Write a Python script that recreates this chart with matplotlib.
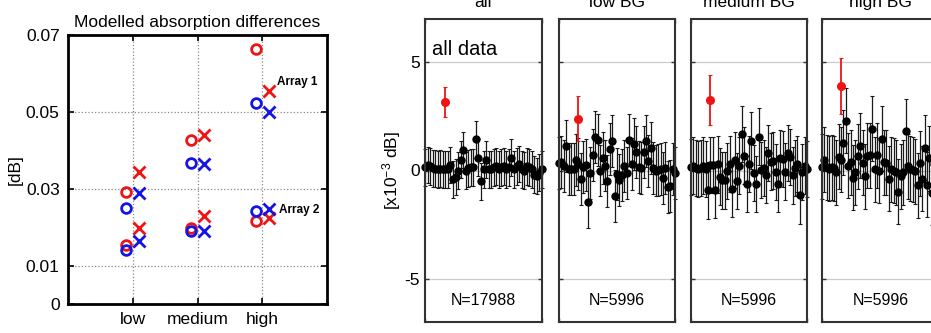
import matplotlib
matplotlib.use("Agg")
import matplotlib.pyplot as plt
import numpy as np

plt.rcParams['font.family'] = ['Liberation Sans', 'DejaVu Sans']
plt.rcParams['mathtext.fontset'] = 'custom'
plt.rcParams['mathtext.rm'] = 'Liberation Sans'
plt.rcParams['mathtext.it'] = 'Liberation Sans'

# ---------------- Left panel data ----------------
groups = ['low', 'medium', 'high']
red_circle_a1 = [0.0291, 0.0427, 0.0663]
blue_circle_a1 = [0.0251, 0.0366, 0.0522]
red_cross_a1 = [0.0343, 0.0440, 0.0553]
blue_cross_a1 = [0.0288, 0.0364, 0.0499]
red_circle_a2 = [0.0154, 0.0199, 0.0216]
blue_circle_a2 = [0.0141, 0.0190, 0.0242]
red_cross_a2 = [0.0199, 0.0229, 0.0223]
blue_cross_a2 = [0.0165, 0.0190, 0.0246]
left_yticks = [0, 0.01, 0.03, 0.05, 0.07]
left_yticklabels = ['0', '0.01', '0.03', '0.05', '0.07']

# ---------------- Right panels data ----------------
panel_titles = ['all', 'low BG', 'medium BG', 'high BG']
panel_counts = ['N=17988', 'N=5996', 'N=5996', 'N=5996']

vals_all = [0.15, 0.25, 0.2, 0.1, 0.08, 0.05, 0.08, 0.05, 0.05, 0.05, 0.25, -0.4, -0.3,
            0.0, 0.5, 0.95, 0.0, 0.1, 0.15, 0.15, 1.45, 0.6, -0.5, 0.05, 0.5, 0.05, 0.05,
            0.15, 0.2, 0.05, 0.15, 0.2, 0.05, 0.15, 0.6, 0.05, 0.2, 0.3, 0.05, 0.0, 0.2,
            0.15, 0.05, -0.2, -0.25, -0.1, 0.05]
vals_low = [0.33, 0.38, 0.2, 1.15, 0.08, 0.05, 0.08, 0.5, 0.3, -0.4, 0.18, 0.27, -1.45,
            -0.1, 0.72, 1.53, 1.4, 0.0, 0.57, 0.23, -0.5, 1.0, 1.38, -1.18, -0.15, -0.45,
            -0.2, 0.2, -0.1, 1.42, 0.3, 1.22, 0.87, 0.15, 0.1, 0.84, 1.35, 0.43, 1.04, 0.1,
            0.0, 0.03, 0.08, -0.34, 0.1, -0.76, -0.72, 0.08, -0.12]
vals_med = [0.15, 0.23, 0.1, 0.08, 0.1, 0.23, 0.08, -0.92, 0.26, 0.26, -0.89, 0.28, -0.28,
            -0.46, -0.46, -0.03, 0.3, -0.87, 0.5, -0.5, 0.23, 1.68, 0.69, -0.61, 0.29, 1.38,
            -0.12, -0.61, 1.57, 0.03, 0.1, -0.2, 0.8, 0.41, 0.46, -0.08, -0.61, 0.57, 0.54,
            -0.05, 0.81, 0.64, -0.23, 0.1, 0.3, -1.15, -0.08, 0.23, 0.08]
vals_high = [0.18, 0.49, 0.15, 0.08, 0.15, 0.1, -0.08, 0.64, 0.5, 1.29, 2.3, 0.23, 0.38,
             -0.33, -0.08, 0.65, 1.14, 0.35, -0.27, 0.68, 0.71, 1.93, 0.05, 0.71, 0.0, 1.47,
             0.38, 0.35, -0.38, 0.05, 0.0, -0.08, -0.99, -0.27, -0.08, 1.82, 0.2, 0.08, 0.03,
             -0.03, -0.68, 0.33, -0.38, 1.06, -0.65, 0.56, -1.03, 0.3, -0.2, 0.1]
panel_vals = [vals_all, vals_low, vals_med, vals_high]
panel_err = [0.85, 1.2, 1.3, 1.5]
red_index = 8
red_vals = [3.15, 2.4, 3.24, 3.9]
red_errs = [0.7, 1.05, 1.15, 1.3]
right_yticks = [-5, 0, 5]

RED = '#ee1414'
BLUE = '#1414e6'

W, H = 931, 333
fig = plt.figure(figsize=(W / 100, H / 100), dpi=100)


def rect(x0, y0, x1, y1):
    return [x0 / W, 1 - y1 / H, (x1 - x0) / W, (y1 - y0) / H]


# ---------------- Left panel ----------------
ax = fig.add_axes(rect(68, 35, 327, 304))
xpos = np.arange(1, len(groups) + 1)
off = 0.1
ms_o, ms_x, mew = 7, 8, 2
for data, col in [(red_circle_a1, RED), (blue_circle_a1, BLUE), (red_circle_a2, RED), (blue_circle_a2, BLUE)]:
    ax.plot(xpos - off, data, 'o', mfc='none', mec=col, ms=ms_o, mew=mew, zorder=3)
for data, col in [(red_cross_a1, RED), (blue_cross_a1, BLUE), (red_cross_a2, RED), (blue_cross_a2, BLUE)]:
    ax.plot(xpos + off, data, 'x', color=col, ms=ms_x, mew=mew, zorder=3)
ax.set_xlim(0, 4)
ax.set_ylim(0, 0.07)
ax.set_xticks(xpos)
ax.set_xticklabels(groups, fontsize=12.5)
ax.set_yticks(left_yticks)
ax.set_yticklabels(left_yticklabels, fontsize=12.5)
ax.grid(True, linestyle=':', color='#888888', linewidth=0.9)
ax.tick_params(direction='in', top=True, right=True, length=4, width=1.2, pad=6)
for s in ax.spines.values():
    s.set_linewidth(2)
    s.set_color('black')
ax.set_ylabel('[dB]', fontsize=12.5, labelpad=2)
ax.set_title('Modelled absorption differences', fontsize=12.5, pad=6)
ax.text(3.23, 0.0578, 'Array 1', fontsize=8.5, fontweight='bold', va='center', ha='left')
ax.text(3.26, 0.0245, 'Array 2', fontsize=8.5, fontweight='bold', va='center', ha='left')

# ---------------- Right panels ----------------
panel_x = [(425, 542), (559, 675), (691, 807), (822, 939)]
for i, (x0, x1) in enumerate(panel_x):
    a = fig.add_axes(rect(x0, 19, x1, 322))
    vals = panel_vals[i]
    n = len(vals)
    xs = np.arange(n)
    for yv in right_yticks:
        a.axhline(yv, color='#cccccc', lw=0.9, zorder=0)
    a.errorbar(xs, vals, yerr=panel_err[i], fmt='o', color='black', ms=5,
               ecolor='#1a1a1a', elinewidth=0.9, capsize=1.2, capthick=0.8, zorder=2,
               clip_on=False)
    a.errorbar([red_index], [red_vals[i]], yerr=[red_errs[i]], fmt='o', color=RED, ms=5.5,
               ecolor=RED, elinewidth=1.3, capsize=1.2, capthick=0.8, zorder=4)
    a.set_xlim(0, n - 1)
    a.set_ylim(-7, 7)
    a.set_yticks(right_yticks)
    a.set_xticks([0, n - 1])
    a.set_xticklabels([])
    a.tick_params(direction='in', top=True, right=True, length=3, width=1, color='#333333')
    if i == 0:
        a.set_yticklabels(['-5', '0', '5'], fontsize=12.5)
        a.set_ylabel('[x10$^{-3}$ dB]', fontsize=12.5, labelpad=1)
        a.text(0.06, 0.9, 'all data', transform=a.transAxes, fontsize=14.5,
               ha='left', va='center')
    else:
        a.set_yticklabels([])
    for s in a.spines.values():
        s.set_linewidth(1.5)
        s.set_color('#333333')
    a.text(0.5, 0.07, panel_counts[i], transform=a.transAxes, fontsize=11.5,
           ha='center', va='center')
    fig.text((x0 + x1) / 2 / W, 1 - 7 / H, panel_titles[i], fontsize=12.5,
             ha='center', va='baseline')

fig.savefig('out.png', dpi=100)
